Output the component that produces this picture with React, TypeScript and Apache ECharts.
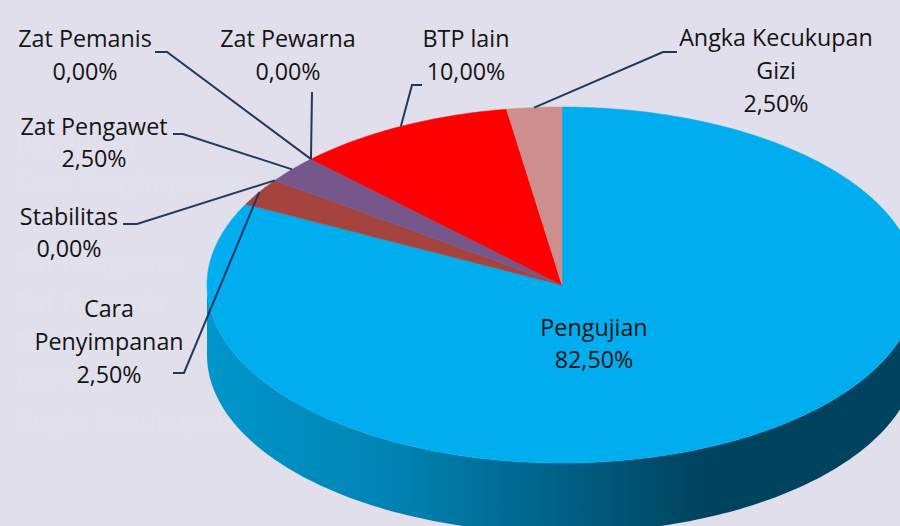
import React, { useEffect, useRef } from "react";
import * as echarts from "echarts";

const categories = ["Pengujian", "Cara Penyimpanan", "Stabilitas", "Zat Pengawet", "Zat Pemanis", "Zat Pewarna", "BTP lain", "Angka Kecukupan Gizi"];
const labelLines = [["Pengujian"], ["Cara", "Penyimpanan"], ["Stabilitas"], ["Zat Pengawet"], ["Zat Pemanis"], ["Zat Pewarna"], ["BTP lain"], ["Angka Kecukupan", "Gizi"]];
const values = [82.5, 2.5, 0, 2.5, 0, 0, 10, 2.5];
const ghostLegend = ["Pengujian", "Cara Penyimpanan", "Stabilitas", "Zat Pengawet", "Zat Pemanis", "Zat Pewarna", "BTP lain", "Angka Kecukupan"];

const colors = ["#00AEEF", "#A5443F", "#9BBB59", "#75578C", "#4BACC6", "#F79646", "#FF0000", "#CD8F8E"];
const FONT = '"Open Sans", sans-serif';
const CX = 562, CY = 285, RX = 355, RY = 178, DEPTH = 70;
const LINE_COLOR = "#1F3A5C";

// label centre [x, y]; leader start [x, y]; leader elbow [x, y]
const layout: number[][][] = [
  [[594, 343]],
  [[109, 341], [173, 373], [184, 373]],
  [[69, 231.5], [123, 224], [137, 224]],
  [[94, 141.5], [173, 134], [183, 134]],
  [[85, 54], [155, 52], [167, 52]],
  [[288, 54], [312, 92], [312, 92]],
  [[466, 54], [422, 85], [412, 85]],
  [[776, 70], [677, 52], [663, 52]],
];
const ghostY = [143, 182, 220, 262, 302, 342, 380, 420];

const total = values.reduce((a, b) => a + b, 0);
const pt = (deg: number, dy = 0) => {
  const r = (deg * Math.PI) / 180;
  return [CX + RX * Math.sin(r), CY + dy - RY * Math.cos(r)];
};
const startDeg = (i: number) => (values.slice(0, i).reduce((a, b) => a + b, 0) / total) * 360;
const pct = (v: number) => ((v / total) * 100).toFixed(2).replace(".", ",") + "%";

function arcPts(a: number, b: number, dy = 0) {
  const out: number[][] = [];
  const n = Math.max(1, Math.ceil(Math.abs(b - a)));
  for (let k = 0; k <= n; k++) out.push(pt(a + ((b - a) * k) / n, dy));
  return out;
}

function renderSlice(params: any, api: any) {
  const i = params.dataIndex;
  const v = api.value(0);
  const a = startDeg(i);
  const b = a + (v / total) * 360;
  const children: any[] = [];
  if (v > 0) {
    children.push({
      type: "polygon",
      shape: { points: [[CX, CY], ...arcPts(a, b)] },
      style: { fill: colors[i], stroke: colors[i], lineWidth: 0.5 },
    });
  }
  return { type: "group", children };
}

function renderSide(params: any, api: any) {
  const i = params.dataIndex;
  const v = api.value(0);
  const a = startDeg(i);
  const b = a + (v / total) * 360;
  const from = Math.max(a, 90);
  const to = Math.min(b, 270);
  if (to <= from) return { type: "group", children: [] };
  return {
    type: "polygon",
    shape: { points: [...arcPts(from, to), ...arcPts(to, from, DEPTH)] },
    style: {
      fill: new echarts.graphic.LinearGradient(1, 0, 0, 0, [
        { offset: 0, color: "#00435E" },
        { offset: 0.3, color: "#00435E" },
        { offset: 0.72, color: "#0081B0" },
        { offset: 1, color: "#0097CC" },
      ]),
    },
  };
}

function renderLabel(params: any, api: any) {
  const i = params.dataIndex;
  const v = api.value(0);
  const a = startDeg(i);
  const mid = a + ((v / total) * 360) / 2;
  const [c, start, elbow] = layout[i];
  const children: any[] = [];
  if (start) {
    children.push({
      type: "polyline",
      shape: { points: [start, elbow, pt(mid)] },
      style: { stroke: LINE_COLOR, lineWidth: 2, fill: "none" },
    });
  }
  children.push({
    type: "text",
    x: c[0],
    y: c[1],
    style: {
      text: [...labelLines[i], pct(v)].join("\n"),
      align: "center",
      verticalAlign: "middle",
      font: `23.3px ${FONT}`,
      lineHeight: labelLines[i].length > 1 || i > 3 ? 33 : 32,
      fill: "#141414",
    },
  });
  return { type: "group", children };
}

export default function App() {
  const ref = useRef<HTMLDivElement>(null);
  useEffect(() => {
    document.body.style.margin = "0";
    const chart = echarts.init(ref.current!, undefined, { renderer: "svg" });
    const data = values.map((v, i) => ({ name: categories[i], value: [v] }));
    chart.setOption({
      animation: false,
      backgroundColor: "#E2DFEC",
      graphic: ghostLegend.map((t, i) => ({
        type: "text",
        x: 16,
        y: ghostY[i],
        z: 0,
        style: { text: t, font: `26px ${FONT}`, fill: "#E0E2EC", verticalAlign: "middle", align: "left" },
      })),
      series: [
        { type: "custom", coordinateSystem: "none", renderItem: renderSide, data, z: 2, silent: true },
        { type: "custom", coordinateSystem: "none", renderItem: renderSlice, data, z: 3, silent: true },
        { type: "custom", coordinateSystem: "none", renderItem: renderLabel, data, z: 4, silent: true },
      ],
    });
    return () => chart.dispose();
  }, []);
  return <div ref={ref} style={{ width: 900, height: 526, overflow: "hidden" }} />;
}
